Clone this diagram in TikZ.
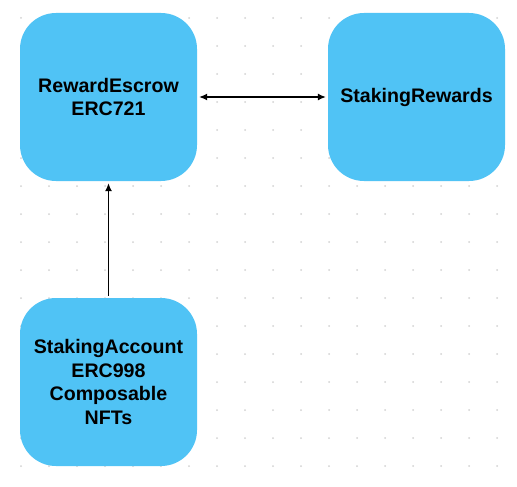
\documentclass[tikz,border=0pt]{standalone}
\usepackage{fontspec}
\setmainfont{Liberation Sans}
\usetikzlibrary{arrows.meta}
\definecolor{boxblue}{HTML}{50C3F5}
\definecolor{dotgray}{HTML}{D2D2D2}
\tikzset{
  contract/.style={rectangle,rounded corners=36pt,fill=boxblue,draw=none,
    minimum width=177pt,minimum height=168pt,align=center,
    font=\fontsize{19.6}{23.5}\selectfont\bfseries},
  link/.style={line width=1.1pt,shorten <=2pt,shorten >=2pt},
}
\begin{document}
\begin{tikzpicture}[x=1pt,y=-1pt,>={Latex[length=8pt,width=7pt]}]
    \useasboundingbox[fill=white] (0,0) rectangle (517,487);
    % dot grid
    \foreach \i in {0,...,17}
      \foreach \j in {0,...,16}
        \fill[dotgray] (21+28*\i,18+28*\j) circle (1pt);
    \node[contract](escrow) at (108.5,97) {RewardEscrow\\ERC721};
    \node[contract](rewards) at (416.5,97) {StakingRewards};
    \node[contract](account) at (108.5,382) {StakingAccount\\ERC998\\Composable\\NFTs};
    \path[<->,link] (escrow) edge (rewards);
    \path[->,link] (account) edge (escrow);
  \end{tikzpicture}
\end{document}
